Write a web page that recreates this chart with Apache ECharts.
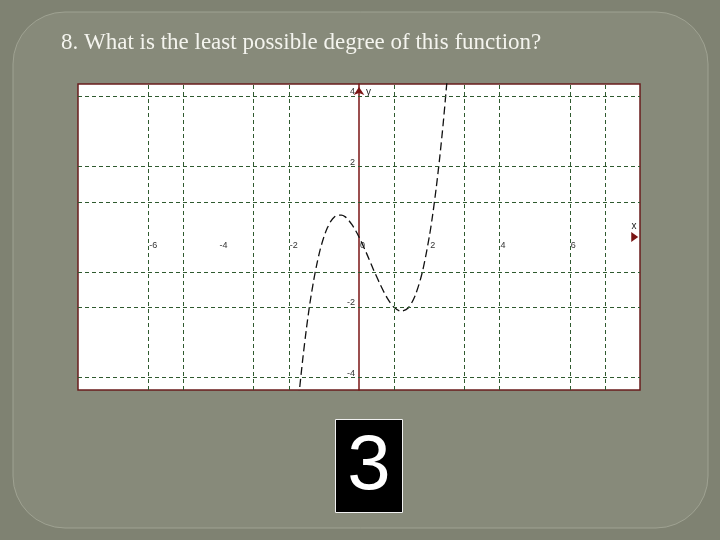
<!DOCTYPE html>
<html>
<head>
<meta charset="utf-8">
<script src="https://cdn.jsdelivr.net/npm/echarts@6/dist/echarts.min.js"></script>
<style>
  html, body { margin: 0; padding: 0; }
  #main { width: 720px; height: 540px; }
</style>
</head>
<body>
<div id="main"></div>
<script>
  // points
  var curveX = [-1.75, -1.7, -1.6, -1.5, -1.4, -1.3, -1.2, -1.1, -1.0, -0.9, -0.8, -0.7, -0.6, -0.5, -0.4, -0.3, -0.2, -0.1, 0,
    0.2, 0.4, 0.6, 0.8, 1.0, 1.2, 1.4, 1.6, 1.8, 2.0, 2.1, 2.2, 2.3, 2.4, 2.5]
  var curveY = [-4.94, -4.40, -3.46, -2.63, -1.90, -1.29, -0.77, -0.34, 0, 0.26, 0.45, 0.57, 0.62, 0.62, 0.58, 0.48, 0.35, 0.19, 0,
    -0.43, -0.90, -1.34, -1.73, -2.00, -2.11, -2.02, -1.66, -1.01, 0, 0.65, 1.41, 2.28, 3.26, 4.38]

  // dashed grid lines (irregular in the picture)
  var gridLinesX = [-6, -5, -3, -2, 1, 3, 4, 6, 7]
  var gridLinesY = [4, 2, 1, -1, -2, -4]

  // tick labels
  var xTicks = [-6, -4, -2, 0, 2, 4, 6]
  var yTicks = [-4, -2, 2, 4]

  var title = '8. What is the least possible degree of this function?'
  var answer = '3'

  var axisRed = '#7a1414'
  var gridGreen = '#2f5a2f'

  var curveData = []
  for (var i = 0; i < curveX.length; i++) {
    curveData.push([curveX[i], curveY[i]])
  }
  var gridMarks = []
  gridLinesX.forEach(function (v) { gridMarks.push({xAxis: v}) })
  gridLinesY.forEach(function (v) { gridMarks.push({yAxis: v}) })

  // grid box and where the axes cross (x = 0, y = 0)
  var box = {left: 78, top: 84, width: 562, height: 306}
  var xMin = -8, xMax = 8, yMin = -4.35, yMax = 4.35
  var yAxisShift = box.width * (0 - xMin) / (xMax - xMin)
  var xAxisShift = box.height * (0 - yMin) / (yMax - yMin)

  var chart = echarts.init(document.getElementById('main'))
  chart.setOption({
    animation: false,
    backgroundColor: '#7f8272',
    graphic: [
      {
        type: 'rect', z: -100, silent: true,
        shape: {x: 13, y: 12, width: 695, height: 516, r: 52},
        style: {fill: '#878a7a', stroke: '#9fa292', lineWidth: 1}
      },
      {
        type: 'text', left: 61, top: 31, silent: true,
        style: {text: title, fill: '#f4f4ee', font: '23px "Liberation Serif", "Times New Roman", serif'}
      },
      {
        type: 'rect', silent: true,
        shape: {x: 335.5, y: 419.5, width: 67, height: 93},
        style: {fill: '#000', stroke: '#f0f0f0', lineWidth: 1}
      },
      {
        type: 'text', x: 369, y: 467, silent: true,
        style: {
          text: answer, fill: '#fff', align: 'center', verticalAlign: 'middle',
          font: '78px "Liberation Sans", Arial, sans-serif'
        }
      }
    ],
    grid: {
      left: box.left,
      top: box.top,
      width: box.width,
      height: box.height,
      show: true,
      backgroundColor: '#ffffff',
      borderColor: '#6a1c1c',
      borderWidth: 1.5
    },
    xAxis: {
      type: 'value',
      min: xMin,
      max: xMax,
      position: 'bottom',
      offset: -xAxisShift,
      name: 'x',
      nameLocation: 'end',
      nameGap: -6,
      nameTextStyle: {color: '#222', fontSize: 10, align: 'center', verticalAlign: 'bottom', padding: [0, 0, 6, 0]},
      axisLine: {show: false, onZero: false},
      axisTick: {show: false},
      splitLine: {show: false},
      axisLabel: {
        customValues: xTicks,
        color: '#333',
        fontSize: 9,
        margin: 4,
        align: 'left',
        padding: [0, 0, 0, 1]
      }
    },
    yAxis: {
      type: 'value',
      min: yMin,
      max: yMax,
      position: 'left',
      offset: -yAxisShift,
      name: 'y',
      nameLocation: 'end',
      nameGap: -8,
      nameTextStyle: {color: '#222', fontSize: 10, align: 'left', verticalAlign: 'middle', padding: [0, 0, 0, 7]},
      axisLine: {
        show: true,
        onZero: false,
        symbol: ['none', 'arrow'],
        symbolSize: [8, 8],
        symbolOffset: [0, -3],
        lineStyle: {color: axisRed, width: 1.5}
      },
      axisTick: {show: false},
      splitLine: {show: false},
      axisLabel: {
        customValues: yTicks,
        color: '#333',
        fontSize: 9,
        margin: 4,
        verticalAlign: 'bottom'
      }
    },
    series: [
      {
        type: 'line',
        data: [],
        silent: true,
        markLine: {
          silent: true,
          symbol: ['none', 'none'],
          label: {show: false},
          lineStyle: {color: gridGreen, width: 1, type: [4, 3]},
          data: gridMarks
        }
      },
      {
        type: 'line',
        data: curveData,
        showSymbol: false,
        smooth: 0.3,
        clip: true,
        lineStyle: {color: '#111', width: 1.3, type: [8, 4]},
        markPoint: {
          silent: true,
          symbol: 'path://M0,0L10,5L0,10Z',
          symbolSize: [7, 10],
          itemStyle: {color: axisRed},
          label: {show: false},
          data: [{coord: [7.85, 0]}]
        }
      }
    ]
  })
</script>
</body>
</html>
